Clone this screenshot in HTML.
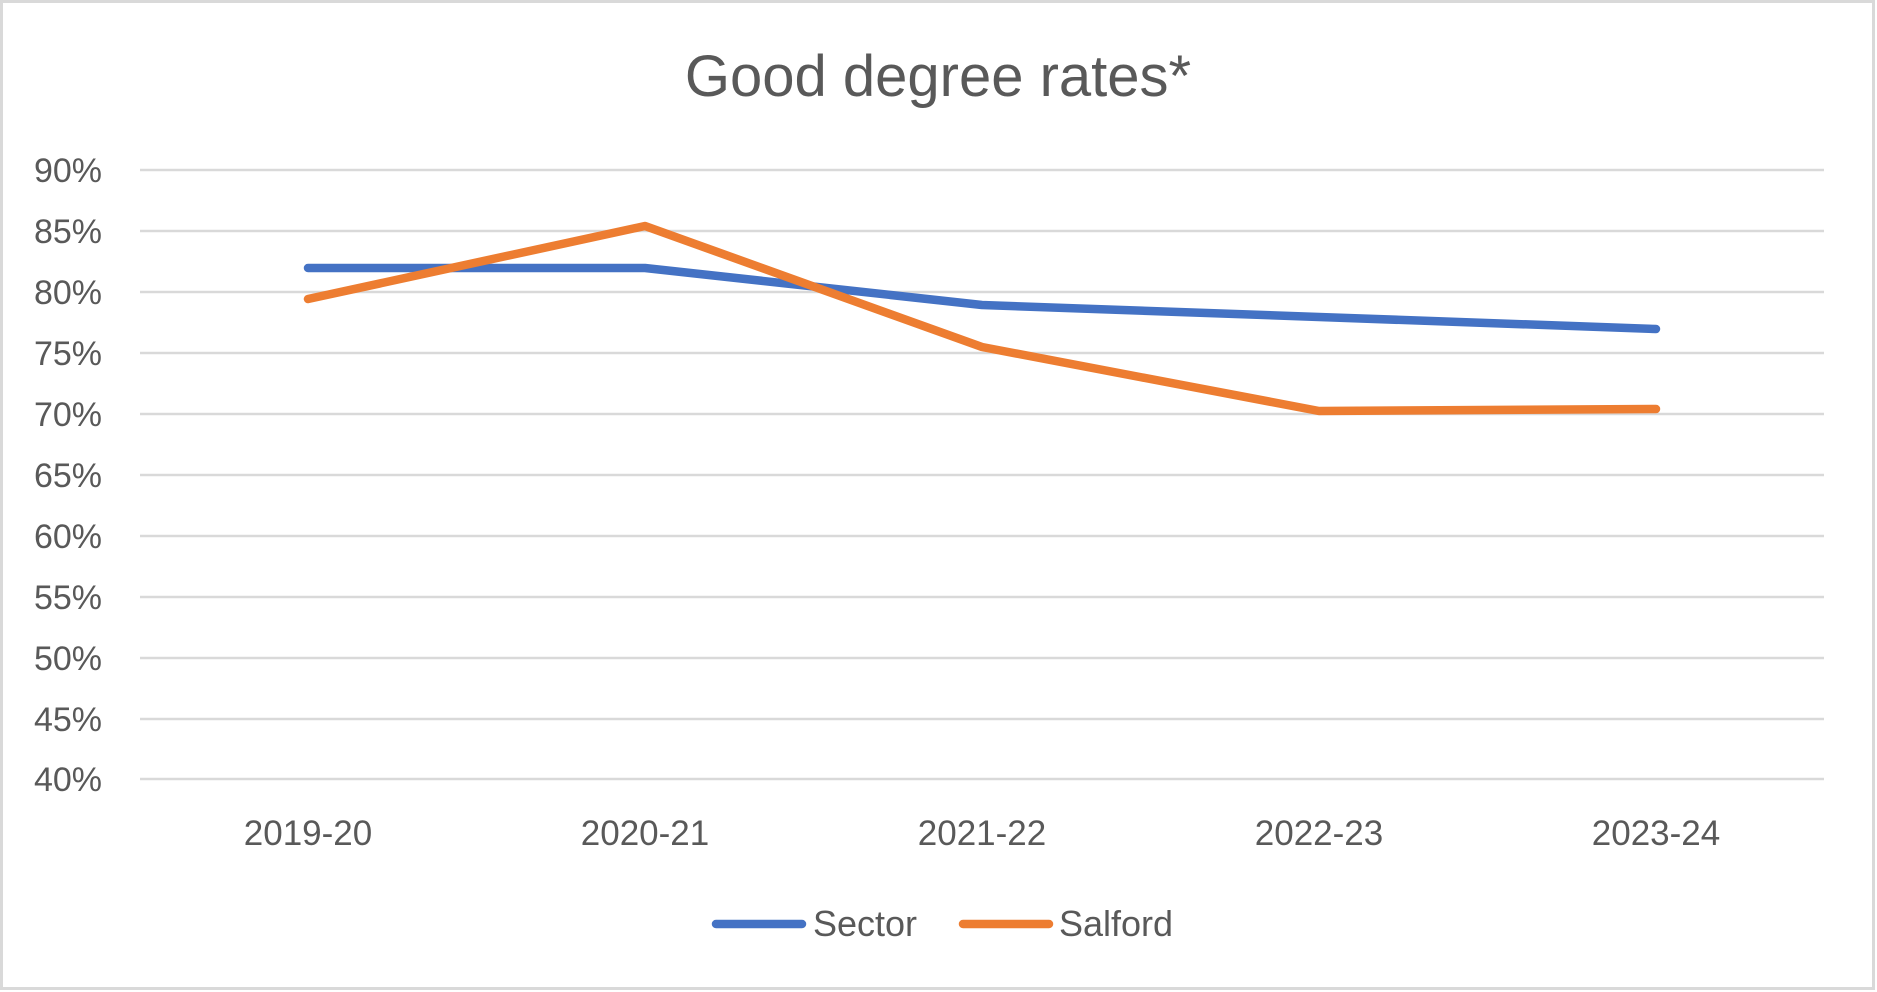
<!DOCTYPE html>
<html><head><meta charset="utf-8"><style>
html,body{margin:0;padding:0;background:#fff}
svg{display:block}
text{font-family:"Liberation Sans",sans-serif;fill:#595959}
</style></head><body>
<svg width="1877" height="992" viewBox="0 0 1877 992">
<rect x="1.5" y="1.5" width="1872" height="987" fill="#fff" stroke="#d9d9d9" stroke-width="3"/>
<text x="938" y="96" font-size="58" text-anchor="middle">Good degree rates*</text>
<g stroke="#d9d9d9" stroke-width="2.5">
<line x1="140" x2="1824" y1="170" y2="170"/><line x1="140" x2="1824" y1="231" y2="231"/>
<line x1="140" x2="1824" y1="292" y2="292"/><line x1="140" x2="1824" y1="353" y2="353"/>
<line x1="140" x2="1824" y1="414" y2="414"/><line x1="140" x2="1824" y1="475" y2="475"/>
<line x1="140" x2="1824" y1="536" y2="536"/><line x1="140" x2="1824" y1="597" y2="597"/>
<line x1="140" x2="1824" y1="658" y2="658"/><line x1="140" x2="1824" y1="719" y2="719"/>
<line x1="140" x2="1824" y1="779" y2="779"/>
</g>
<g font-size="34" text-anchor="end">
<text x="102" y="182">90%</text><text x="102" y="243">85%</text><text x="102" y="304">80%</text>
<text x="102" y="365">75%</text><text x="102" y="426">70%</text><text x="102" y="487">65%</text>
<text x="102" y="548">60%</text><text x="102" y="609">55%</text><text x="102" y="670">50%</text>
<text x="102" y="731">45%</text><text x="102" y="791">40%</text>
</g>
<g font-size="35" text-anchor="middle">
<text x="308" y="845">2019-20</text><text x="645" y="845">2020-21</text><text x="982" y="845">2021-22</text>
<text x="1319" y="845">2022-23</text><text x="1656" y="845">2023-24</text>
</g>
<polyline fill="none" stroke="#4472c4" stroke-width="8.5" stroke-linecap="round" stroke-linejoin="round"
 points="308,268 645,268 982,305 1319,317 1656,329"/>
<polyline fill="none" stroke="#ed7d31" stroke-width="8.5" stroke-linecap="round" stroke-linejoin="round"
 points="308,299 645,226 982,347 1319,411 1656,409"/>
<line x1="716" x2="802" y1="924" y2="924" stroke="#4472c4" stroke-width="8.5" stroke-linecap="round"/>
<text x="813" y="936" font-size="36">Sector</text>
<line x1="963" x2="1049" y1="924" y2="924" stroke="#ed7d31" stroke-width="8.5" stroke-linecap="round"/>
<text x="1059" y="936" font-size="36">Salford</text>
</svg>
</body></html>
